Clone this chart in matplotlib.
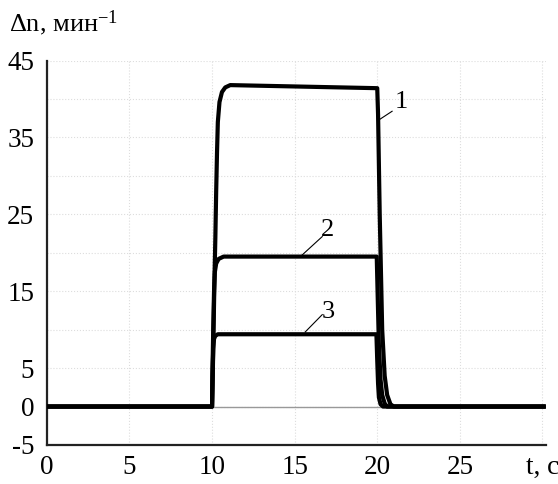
import matplotlib
matplotlib.use('Agg')
import matplotlib.pyplot as plt
from matplotlib.ticker import MultipleLocator

plt.rcParams['font.family'] = ['Liberation Serif', 'DejaVu Serif']
plt.rcParams['mathtext.fontset'] = 'custom'
plt.rcParams['mathtext.rm'] = 'Liberation Serif'
plt.rcParams['mathtext.it'] = 'Liberation Serif:italic'
plt.rcParams['axes.unicode_minus'] = False

# curve 1
t1 = [0, 10.0, 10.05, 10.1, 10.15, 10.2, 10.25, 10.3, 10.35, 10.45, 10.6, 10.8, 11.1, 20.0,
      20.05, 20.15, 20.3, 20.45, 20.6, 20.8, 21.0, 30.2]
n1 = [0, 0, 5, 11, 17, 22, 28, 33, 37, 39.6, 40.9, 41.5, 41.8, 41.4,
      38, 25, 10, 4, 1.5, 0.3, 0, 0]
# curve 2
t2 = [0, 10.0, 10.03, 10.07, 10.12, 10.17, 10.25, 10.4, 10.7, 19.97,
      20.02, 20.1, 20.2, 20.3, 20.45, 20.6, 30.2]
n2 = [0, 0, 5, 10, 15, 17.5, 18.6, 19.2, 19.5, 19.5,
      15, 8, 3.5, 1.5, 0.4, 0, 0]
# curve 3
t3 = [0, 10.0, 10.03, 10.07, 10.12, 10.2, 10.35, 19.95,
      20.0, 20.05, 20.1, 20.2, 20.35, 30.2]
n3 = [0, 0, 4, 7.5, 8.8, 9.2, 9.4, 9.4,
      6, 3, 1.2, 0.3, 0, 0]

xticks = [0, 5, 10, 15, 20, 25, 30]
xlabels = ['0', '5', '10', '15', '20', '25', 't, c']
yticks = [-5, 0, 5, 15, 25, 35, 45]

# curve labels: (text pos, leader start, leader end)
labels = ['1', '2', '3']
label_xy = [(21.45, 39.6), (16.97, 23.0), (17.03, 12.3)]
leader_from = [(20.12, 37.3), (15.45, 19.7), (15.64, 9.7)]
leader_to = [(20.9, 38.4), (16.67, 22.1), (16.67, 11.95)]

fig = plt.figure(figsize=(5.58, 4.84), dpi=100)
ax = fig.add_axes([0.084, 0.0806, 0.894, 0.7944])

ax.xaxis.set_minor_locator(MultipleLocator(5))
ax.yaxis.set_minor_locator(MultipleLocator(5))
ax.grid(which='both', color='#dddddd', linestyle=':', linewidth=0.8)
ax.set_axisbelow(True)
ax.axhline(0, color='#999999', linewidth=1, zorder=1)

for t, n in [(t1, n1), (t2, n2), (t3, n3)]:
    ax.plot(t, n, color='black', linewidth=3, solid_capstyle='butt', zorder=3)

for lab, xy, p0, p1 in zip(labels, label_xy, leader_from, leader_to):
    ax.plot([p0[0], p1[0]], [p0[1], p1[1]], color='black', linewidth=0.8, zorder=3)
    ax.text(xy[0], xy[1], lab, fontsize=19, ha='center', va='center')

ax.set_xlim(0, 30.2)
ax.set_ylim(-5, 45)
ax.set_xticks(xticks)
ax.set_xticklabels(xlabels)
ax.set_yticks(yticks)
ax.tick_params(which='both', length=0, labelsize=19.5)
ax.tick_params(axis='x', pad=7)
ax.tick_params(axis='y', pad=9)

for s in ['top', 'right']:
    ax.spines[s].set_visible(False)
for s in ['left', 'bottom']:
    ax.spines[s].set_linewidth(1.6)
    ax.spines[s].set_color('#222222')

fig.text(0.016, 0.953, '$\\Delta$n, мин$^{-1}$', fontsize=19, ha='left', va='center')

fig.savefig('out.png', dpi=100)
